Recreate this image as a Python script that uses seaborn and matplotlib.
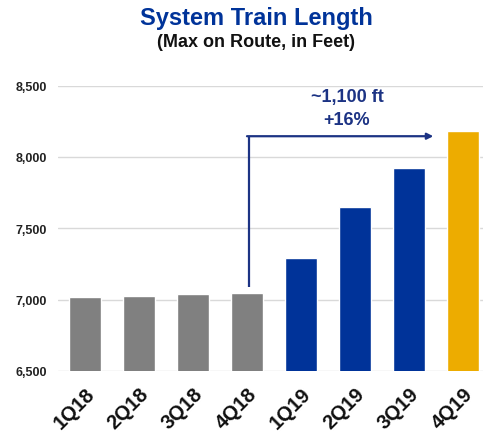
import matplotlib
matplotlib.use("Agg")
import matplotlib.pyplot as plt
import seaborn as sns
import pandas as pd

quarters = ["1Q18", "2Q18", "3Q18", "4Q18", "1Q19", "2Q19", "3Q19", "4Q19"]
train_length = [7020, 7025, 7040, 7048, 7290, 7650, 7920, 8180]
bar_colors = ["#808080"] * 4 + ["#003399"] * 3 + ["#edac00"]
yticks = [6500, 7000, 7500, 8000, 8500]

sns.set_style("white")
plt.rcParams["font.family"] = ["Liberation Sans", "DejaVu Sans"]

df = pd.DataFrame({"quarter": quarters, "length": train_length})

fig = plt.figure(figsize=(4.83, 4.35), dpi=100)
ax = fig.add_axes([0.12, 0.145, 0.88, 0.656])

sns.barplot(data=df, x="quarter", y="length", hue="quarter", palette=bar_colors,
            saturation=1, width=0.59, legend=False, ax=ax, zorder=3)

ax.set_ylim(6500, 8500)
ax.set_xlim(-0.5, 7.37)
ax.set_yticks(yticks)
ax.set_yticklabels([f"{v:,}" for v in yticks], fontsize=9, fontweight="bold", color="#222222")
ax.yaxis.grid(True, color="#d9d9d9", linewidth=1, zorder=0)
ax.tick_params(axis="y", length=0, pad=8)
ax.tick_params(axis="x", length=0, pad=9)
for lbl in ax.get_xticklabels():
    lbl.set_rotation(45)
    lbl.set_ha("right")
    lbl.set_rotation_mode("anchor")
    lbl.set_fontsize(14.5)
    lbl.set_fontweight("bold")
    lbl.set_color("#111111")
ax.set_xlabel("")
ax.set_ylabel("")
sns.despine(ax=ax, left=True, bottom=True, top=True, right=True)

# arrow from 4Q18 to 4Q19
arrow_color = "#1c3384"
ax.plot([3.03, 3.03], [7088, 8145], color=arrow_color, lw=1.6, zorder=4, solid_capstyle="butt")
ax.annotate("", xy=(6.45, 8145), xytext=(3.0, 8145),
            arrowprops=dict(arrowstyle="-|>", color=arrow_color, lw=1.6,
                            mutation_scale=9, shrinkA=0, shrinkB=0), zorder=4)
ax.text(4.85, 8425, "~1,100 ft", ha="center", va="center", fontsize=13,
        fontweight="bold", color=arrow_color)
ax.text(4.85, 8262, "+16%", ha="center", va="center", fontsize=13,
        fontweight="bold", color=arrow_color)

fig.text(0.53, 0.958, "System Train Length", ha="center", va="center",
         fontsize=17, fontweight="bold", color="#003399")
fig.text(0.53, 0.902, "(Max on Route, in Feet)", ha="center", va="center",
         fontsize=13, fontweight="bold", color="#111111")

fig.savefig("out.png", dpi=100)
